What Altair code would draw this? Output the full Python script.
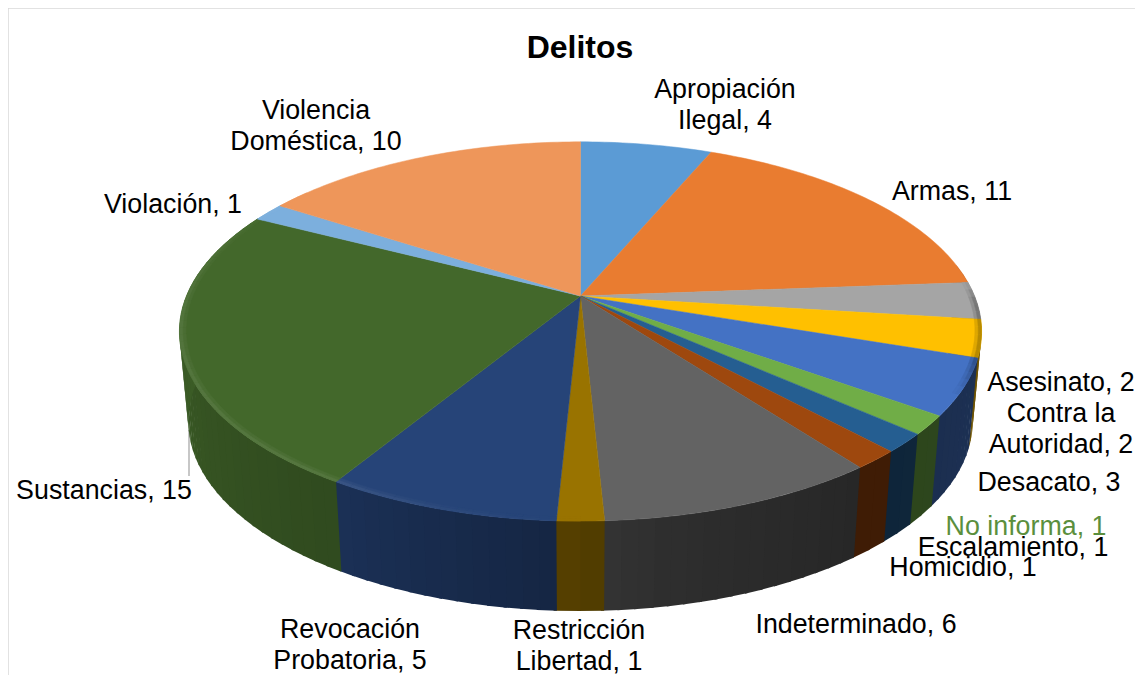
import numpy as np
import altair as alt

# ---- data ----
names = ["Apropiación\nIlegal", "Armas", "Asesinato", "Contra la\nAutoridad", "Desacato",
         "No informa", "Escalamiento", "Homicidio", "Indeterminado", "Restricción\nLibertad",
         "Revocación\nProbatoria", "Sustancias", "Violación", "Violencia\nDoméstica"]
values = [4, 11, 2, 2, 3, 1, 1, 1, 6, 1, 5, 15, 1, 10]
colors = ["#5b9bd5", "#e97c30", "#a5a5a5", "#ffc000", "#4472c4", "#70ad47", "#255e91",
          "#9e480e", "#636363", "#997300", "#264478", "#43682b", "#7cafdd", "#ee965a"]

# ---- layout (page pixels) ----
label_x = [725, 952, 1061, 1061, 1049, 1026, 1013, 963, 856, 579, 350, 104, 173, 316]
label_y = [90, 192, 383, 414, 483, 527, 548, 568, 625, 631, 630, 491, 205, 111]
label_col = ["#000000"] * 14
label_col[5] = "#5b8f3d"
CX, CY, A, B, K = 580.5, 296.0, 394.0, 183.0, 0.187
DEPTH, SHRINK = 90.0, 0.978


def project(theta, r=1.0, bottom=False):
    t = np.radians(theta)
    X, Y = r * np.sin(t), r * np.cos(t)
    d = 1 + K * Y
    x, y = A * X / d, -B * Y / d
    if bottom:
        return CX + SHRINK * x, CY + y + DEPTH
    return CX + x, CY + y


def hex_mul(c, f):
    rgb = [int(c[i:i + 2], 16) for i in (1, 3, 5)]
    return "#%02x%02x%02x" % tuple(int(max(0, min(255, v * f))) for v in rgb)


def hex_lift(c, h):
    rgb = [int(c[i:i + 2], 16) for i in (1, 3, 5)]
    return "#%02x%02x%02x" % tuple(int(v + (255 - v) * h) for v in rgb)


def feature(pts, col):
    ring = [[float(a), float(b)] for a, b in pts]
    ring.append(ring[0])
    return {"type": "Feature", "properties": {"fill": col},
            "geometry": {"type": "Polygon", "coordinates": [ring]}}


def arc_angles(a0, a1, step=1.0):
    n = max(2, int((a1 - a0) / step) + 1)
    return np.linspace(a0, a1, n)


total = sum(values)
cum = np.cumsum([0] + values) * 360.0 / total
sides, tops, rims = [], [], []
for i, col in enumerate(colors):
    a0, a1 = cum[i], cum[i + 1]
    # outer wall, in shaded strips; each strip slides a little under the next
    if a1 > 80 and a0 < 300:
        angs = arc_angles(max(a0, 80), min(a1, 300), 2.0)
        for p, q in zip(angs[:-1], angs[1:]):
            f = np.interp((p + q) / 2, [90, 125, 143, 170, 182, 212, 240, 270, 300],
                          [.45, .41, .40, .47, .56, .72, .80, .90, .95])
            c = hex_mul(col, f)
            q2 = q + 0.4
            sides.append(feature([project(p), project(q2), project(q2, bottom=True),
                                  project(p, bottom=True)], c))
    # top wedge
    angs = arc_angles(a0, a1)
    tops.append(feature([(CX, CY)] + [project(a) for a in angs], col))
    # bevelled rim: a soft inner band, then the brighter outer band
    angs = arc_angles(a0, a1, 2.0)
    for p, q in zip(angs[:-1], angs[1:]):
        m = (p + q) / 2
        h = np.interp(m, [180, 195, 215, 270, 295, 310], [0, .03, .10, .08, .03, 0])
        dark = np.interp(m, [85, 92, 110, 120], [1, .72, .72, 1])
        if h > 0 or dark < 1:
            c1 = hex_mul(hex_lift(col, h * .45), 1 - (1 - dark) * .45)
            c2 = hex_mul(hex_lift(col, h), dark)
            rims.append(feature([project(p, .984), project(q, .984), project(q, .992), project(p, .992)], c1))
            rims.append(feature([project(p, .992), project(q, .992), project(q), project(p)], c2))

proj = alt.Projection(type="identity", scale=1, translate=[-8, -8])
wall = alt.Chart(alt.Data(values=sides)).mark_geoshape(
    strokeWidth=0, opacity=1, fillOpacity=1
).encode(
    fill=alt.Fill("properties.fill:N", scale=None, legend=None),
).project(**proj.to_dict())
pie = alt.Chart(alt.Data(values=tops + rims)).mark_geoshape(
    strokeWidth=0.5, opacity=1, fillOpacity=1, strokeOpacity=1
).encode(
    fill=alt.Fill("properties.fill:N", scale=None, legend=None),
    stroke=alt.Stroke("properties.fill:N", scale=None, legend=None),
).project(**proj.to_dict())

labels = [{"t": f"{n}, {v}", "x": x, "y": y, "c": c}
          for n, v, x, y, c in zip(names, values, label_x, label_y, label_col)]
text = alt.Chart(alt.Data(values=labels)).mark_text(
    font="Liberation Sans", fontSize=26.8, lineBreak="\n", lineHeight=30.5, align="center", baseline="middle"
).encode(
    longitude="x:Q", latitude="y:Q", text="t:N",
    color=alt.Color("c:N", scale=None, legend=None),
).project(**proj.to_dict())

title = alt.Chart(alt.Data(values=[{"t": "Delitos", "x": 580, "y": 48}])).mark_text(
    font="Liberation Sans", fontSize=32, fontWeight="bold", align="center", baseline="middle", color="#000000"
).encode(longitude="x:Q", latitude="y:Q", text="t:N").project(**proj.to_dict())

# page pixel minus the 8px page margin
leader = alt.Chart(alt.Data(values=[{"a": 1}])).mark_rule(color="#b5b5b5", strokeWidth=1.5).encode(
    x=alt.value(181), y=alt.value(422), y2=alt.value(468))
edge_top = alt.Chart(alt.Data(values=[{"a": 1}])).mark_rule(color="#d9d9d9", strokeWidth=1.5).encode(
    x=alt.value(0), x2=alt.value(1127), y=alt.value(0))
edge_left = alt.Chart(alt.Data(values=[{"a": 1}])).mark_rule(color="#d9d9d9", strokeWidth=1.5).encode(
    x=alt.value(0), y=alt.value(0), y2=alt.value(667))

chart = alt.layer(edge_top, edge_left, leader, wall, pie, text, title).properties(
    width=1127, height=667, padding=0, autosize=alt.AutoSizeParams(type="none"),
    background="#ffffff",
).configure_view(stroke=None, clip=False)

chart.save("out.html", embed_options={"renderer": "svg", "actions": False})
